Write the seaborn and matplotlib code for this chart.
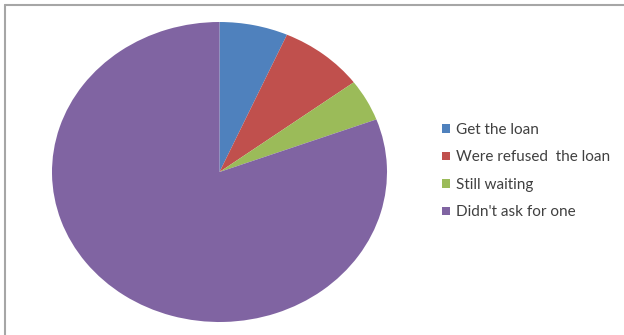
import matplotlib
matplotlib.use("Agg")
import matplotlib.pyplot as plt
from matplotlib.patches import Rectangle
from matplotlib.lines import Line2D
import seaborn as sns

categories = ["Get the loan", "Were refused  the loan", "Still waiting", "Didn't ask for one"]
values = [6.6, 8.2, 4.5, 80.7]
colors = ["#4F81BD", "#C0504D", "#9BBB59", "#8064A2"]

sns.set_theme(style="white")
plt.rcParams['font.family'] = ['Lato', 'DejaVu Sans']

W, H = 624, 335
fig = plt.figure(figsize=(W / 100, H / 100), dpi=100)
fig.patch.set_facecolor("white")

# pie axes (stretched horizontally like the reference)
l, r, t, b = 52, 387, 22, 322
ax = fig.add_axes([l / W, 1 - b / H, (r - l) / W, (b - t) / H])
pal = sns.color_palette(colors)
wedges, _ = ax.pie(values, colors=pal, startangle=90, counterclock=False,
                   wedgeprops=dict(linewidth=0))
ax.set_aspect("auto")
ax.set_xlim(-1, 1)
ax.set_ylim(-1, 1)
ax.axis("off")

# chart frame (top and left edges only are visible)
fig.add_artist(Line2D([5 / W, 1.0], [1 - 5 / H, 1 - 5 / H], transform=fig.transFigure,
                      color="#a6a6a6", linewidth=1.5))
fig.add_artist(Line2D([5 / W, 5 / W], [0.0, 1 - 5 / H], transform=fig.transFigure,
                      color="#a6a6a6", linewidth=1.5))

handles = [Rectangle((0, 0), 1, 1, facecolor=c, edgecolor="none") for c in pal]
leg = fig.legend(handles, categories, loc="upper left",
                 bbox_to_anchor=(442 / W, 1 - 123 / H), frameon=False,
                 fontsize=11, handlelength=0.5, handleheight=0.5,
                 handletextpad=0.4, labelspacing=0.88, borderpad=0,
                 borderaxespad=0)
for txt in leg.get_texts():
    txt.set_color("#404040")

fig.savefig("out.png", dpi=100, facecolor="white")
